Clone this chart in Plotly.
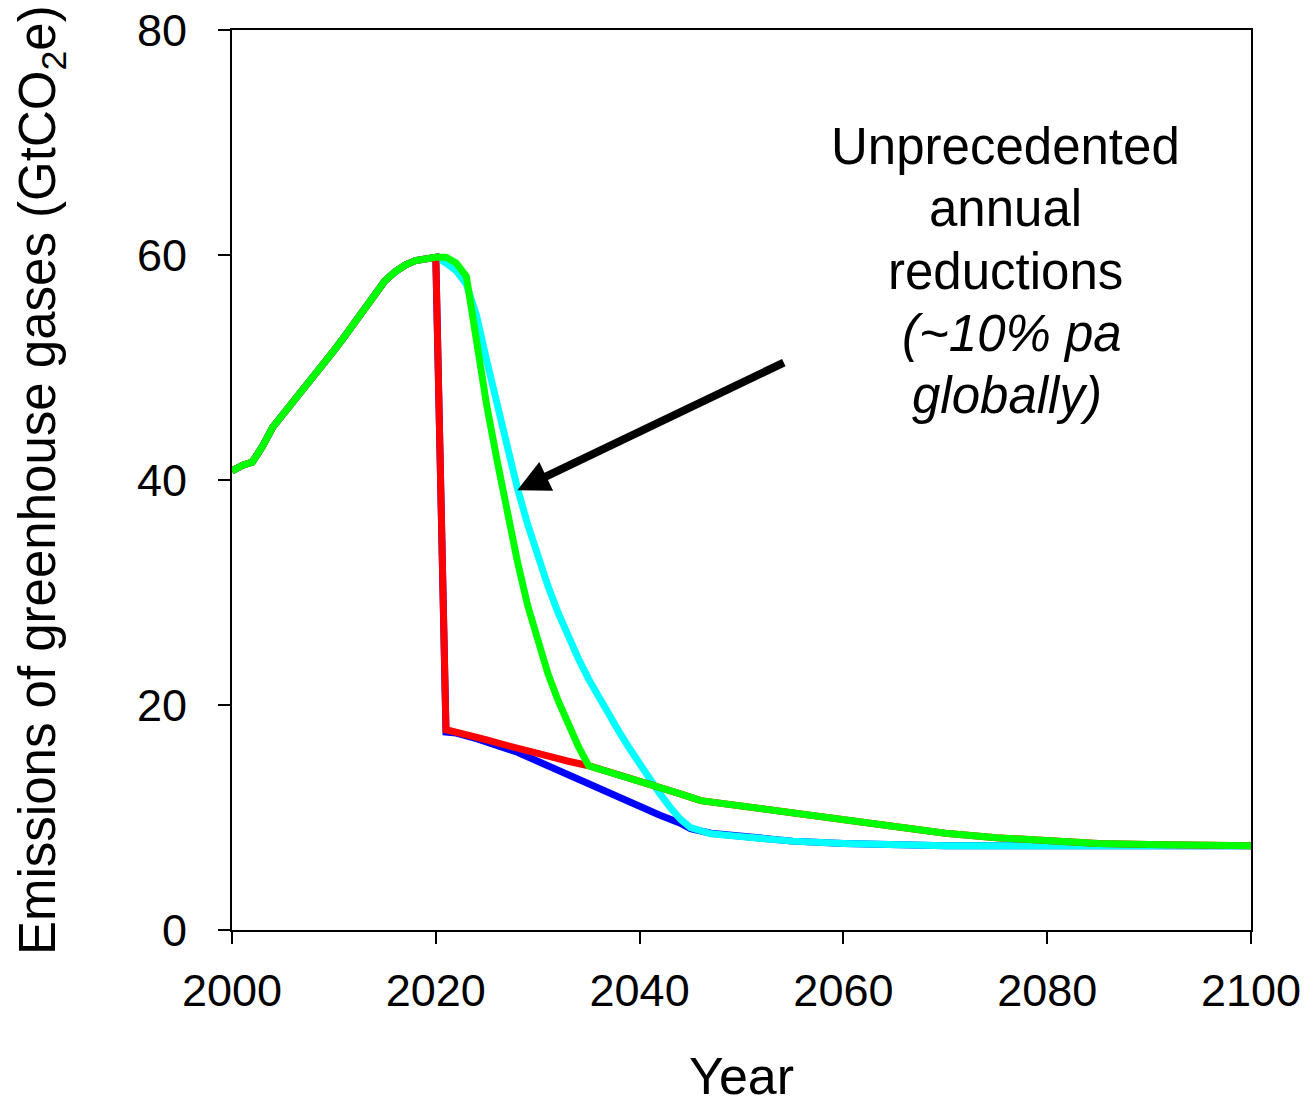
import plotly.graph_objects as go

# ---- data ----
hist_years = list(range(2000, 2021))
hist_vals = [40.8, 41.3, 41.6, 43.0, 44.7, 45.8, 46.9, 48.0, 49.1, 50.3, 51.5,
             52.7, 54.0, 55.3, 56.6, 57.7, 58.5, 59.1, 59.5, 59.7, 59.8]

blue_years = [2021, 2022, 2024, 2026, 2028, 2030, 2032, 2034, 2036, 2038, 2040,
              2042, 2044, 2045, 2047, 2050, 2055, 2060, 2065, 2070, 2080, 2090, 2100]
blue_vals = [17.6, 17.5, 17.0, 16.4, 15.8, 15.0, 14.2, 13.3, 12.5, 11.7, 10.9,
             10.2, 9.5, 9.0, 8.6, 8.3, 7.9, 7.7, 7.6, 7.5, 7.5, 7.5, 7.5]

red_years = [2021, 2023, 2025, 2027, 2029, 2031, 2033, 2035, 2038, 2040, 2042,
             2044, 2046, 2050, 2055, 2060, 2065, 2070, 2075, 2080, 2085, 2090, 2100]
red_vals = [17.8, 17.4, 16.9, 16.4, 15.9, 15.4, 15.0, 14.6, 13.8, 13.3, 12.7,
            12.1, 11.5, 11.0, 10.4, 9.7, 9.1, 8.6, 8.2, 7.9, 7.7, 7.6, 7.5]

cyan_years = [2021, 2022, 2023, 2024, 2025, 2026, 2027, 2028, 2029, 2030, 2031,
              2032, 2033, 2034, 2035, 2036, 2037, 2038, 2039, 2040, 2041, 2042,
              2043, 2044, 2045, 2046, 2047, 2050, 2055, 2060, 2065, 2070, 2080,
              2090, 2100]
cyan_vals = [59.3, 58.6, 57.4, 54.6, 50.6, 46.6, 42.8, 39.3, 36.1, 33.2, 30.6,
             28.2, 26.0, 24.1, 22.3, 20.65, 19.1, 17.6, 16.15, 14.75, 13.4, 12.1,
             10.9, 9.85, 9.1, 8.75, 8.55, 8.3, 7.9, 7.7, 7.6, 7.5, 7.5, 7.5, 7.5]

green_years = [2021, 2022, 2023, 2024, 2025, 2026, 2027, 2028, 2029, 2030, 2031,
               2032, 2033, 2034, 2035, 2038, 2040, 2042, 2044, 2046, 2050, 2055,
               2060, 2065, 2070, 2075, 2080, 2085, 2090, 2100]
green_vals = [59.8, 59.3, 58.1, 52.0, 46.6, 41.8, 37.2, 32.8, 28.9, 25.6, 22.8,
              20.4, 18.2, 16.3, 14.6, 13.8, 13.3, 12.7, 12.1, 11.5, 11.0, 10.4,
              9.7, 9.1, 8.6, 8.2, 7.9, 7.7, 7.6, 7.5]

x_ticks = [2000, 2020, 2040, 2060, 2080, 2100]
y_ticks = [0, 20, 40, 60, 80]

note_lines = ["Unprecedented", "annual", "reductions",
              "<i>(~10% pa</i>", "<i>globally)</i>"]

FONT = "Arial, Liberation Sans, sans-serif"

# page body has an 8px default margin; compensate so the plot lands where intended
OFF = 8
W, H = 1309 - OFF, 1098 - OFF
L, T = 232 - OFF, 30 - OFF
R = 1309 - 1251
B = H - (930 - OFF)

fig = go.Figure()
series = [
    ("blue", blue_years, blue_vals, "#0000FF"),
    ("cyan", cyan_years, cyan_vals, "#00FFFF"),
    ("red", red_years, red_vals, "#FF0000"),
    ("green", green_years, green_vals, "#00FF00"),
]
for name, yrs, vals, col in series:
    fig.add_trace(go.Scatter(
        x=hist_years + yrs, y=hist_vals + vals, mode="lines", name=name,
        line=dict(color=col, width=7), showlegend=False, hoverinfo="skip"))

axis_common = dict(showline=True, linecolor="black", linewidth=2, mirror=True,
                   ticks="outside", ticklen=12, tickwidth=2, tickcolor="black",
                   showgrid=False, zeroline=False, automargin=False,
                   ticklabeloverflow="allow",
                   tickfont=dict(family=FONT, size=45, color="black"))

fig.update_xaxes(range=[2000, 2100], tickvals=x_ticks, ticklabelstandoff=8, **axis_common)
fig.update_yaxes(range=[0, 80], tickvals=y_ticks, ticklabelstandoff=22, **axis_common)

fig.add_annotation(x=-(232 - 41) / 1019, y=0.5, xref="paper", yref="paper",
                   text="Emissions of greenhouse gases (GtCO<sub>2</sub>e)",
                   textangle=-90, showarrow=False, xanchor="center", yanchor="middle",
                   font=dict(family=FONT, size=51, color="black"))
fig.add_annotation(x=0.5, y=-(1076 - 930) / 900, xref="paper", yref="paper", text="Year",
                   showarrow=False, xanchor="center", yanchor="middle",
                   font=dict(family=FONT, size=52, color="black"))

line_px_y = [146, 208, 271, 333, 395]
line_px_x = [1005, 1005, 1005, 1012, 1007]
for txt, px, py in zip(note_lines, line_px_x, line_px_y):
    fig.add_annotation(x=2000 + (px - 232) / 10.19, y=(930 - py) / 11.25,
                       xref="x", yref="y", text=txt, showarrow=False,
                       xanchor="center", yanchor="middle",
                       font=dict(family=FONT, size=51, color="black"))

fig.add_annotation(x=2028.0, y=39.1, ax=2054.3, ay=50.5, xref="x", yref="y",
                   axref="x", ayref="y", text="", showarrow=True,
                   arrowhead=2, arrowsize=0.8, arrowwidth=8, arrowcolor="black")

fig.update_layout(width=W, height=H, autosize=False,
                  margin=dict(l=L, r=R, t=T, b=B, pad=0),
                  plot_bgcolor="white", paper_bgcolor="white")

fig.write_html("out.html")
